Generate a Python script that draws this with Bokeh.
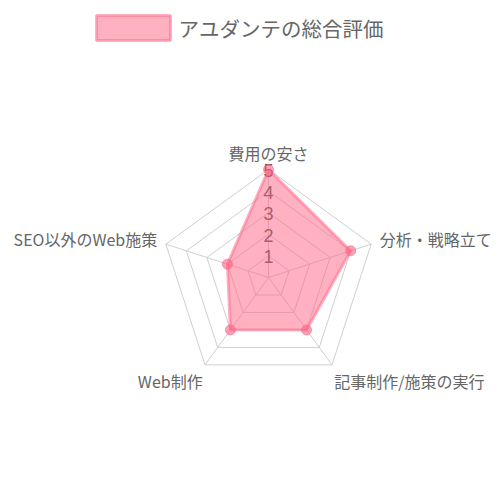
import math
from bokeh.plotting import figure
from bokeh.models import Range1d
from bokeh.core.properties import value
from bokeh.embed import file_html
from bokeh.resources import INLINE

# ---- data ----
categories = ["費用の安さ", "分析・戦略立て", "記事制作/施策の実行", "Web制作", "SEO以外のWeb施策"]
scores = [5, 4, 3, 3, 2]
tick_values = [1, 2, 3, 4, 5]
tick_labels = ["1", "2", "3", "4", "5"]
series_name = "アユダンテの総合評価"
scale_max = 5

FONT = "Noto Sans CJK JP"
W, H = 500, 490
p = figure(width=W, height=H, output_backend="svg", toolbar_location=None,
           x_range=Range1d(0, W), y_range=Range1d(H, 0),
           min_border=0)
p.axis.visible = False
p.grid.visible = False
p.outline_line_color = None
p.background_fill_color = "white"

cx, cy, R = 268.0, 277.0, 108.0
n = len(categories)
angles = [-math.pi / 2 + 2 * math.pi * i / n for i in range(n)]

def pt(v, a):
    r = R * v / scale_max
    return cx + r * math.cos(a), cy + r * math.sin(a)

# grid rings
grid_col = "#d0d0d0"
for t in tick_values:
    xs = [pt(t, a)[0] for a in angles] + [pt(t, angles[0])[0]]
    ys = [pt(t, a)[1] for a in angles] + [pt(t, angles[0])[1]]
    p.line(xs, ys, line_color=grid_col, line_width=1)
# spokes
for a in angles:
    x1, y1 = pt(scale_max, a)
    p.line([cx, x1], [cy, y1], line_color=grid_col, line_width=1)

# tick labels (under data fill)
p.text(x=[cx] * len(tick_values), y=[pt(t, angles[0])[1] + 1 for t in tick_values],
       text=tick_labels, text_align="center", text_baseline="middle",
       text_font=value("Liberation Sans"), text_font_size="18px", text_color="#555555")

# data polygon
dx = [pt(v, a)[0] for v, a in zip(scores, angles)]
dy = [pt(v, a)[1] for v, a in zip(scores, angles)]
p.patch(dx, dy, fill_color="#ff6384", fill_alpha=0.5,
        line_color="#ff6384", line_alpha=0.5, line_width=3)
p.scatter(dx, dy, size=10, fill_color="#ff6384", fill_alpha=0.6, line_color="#ff6384", line_alpha=0.6)

# category labels
for c, a in zip(categories, angles):
    ca, sa = math.cos(a), math.sin(a)
    if abs(ca) < 0.1:
        align = "center"
    elif ca > 0:
        align = "left"
    else:
        align = "right"
    if sa < -0.9:
        lx, ly = cx, cy - R - 17
    elif sa < 0:
        lx, ly = cx + (R + 9) * ca, cy + R * sa - 5
    else:
        lx, ly = cx + (R + 4) * ca, cy + R * sa + 16
    p.text(x=[lx], y=[ly], text=[c], text_align=align, text_baseline="middle",
           text_font=value(FONT), text_font_size="16px", text_color="#666666")

# legend (manual)
p.rect(x=[133], y=[27.5], width=74, height=25, fill_color="#ff6384", fill_alpha=0.5,
       line_color="#ff6384", line_alpha=0.5, line_width=3)
p.text(x=[178], y=[27], text=[series_name], text_align="left", text_baseline="middle",
       text_font=value(FONT), text_font_size="20.5px", text_color="#666666")

open("out.html", "w").write(file_html(p, INLINE))
